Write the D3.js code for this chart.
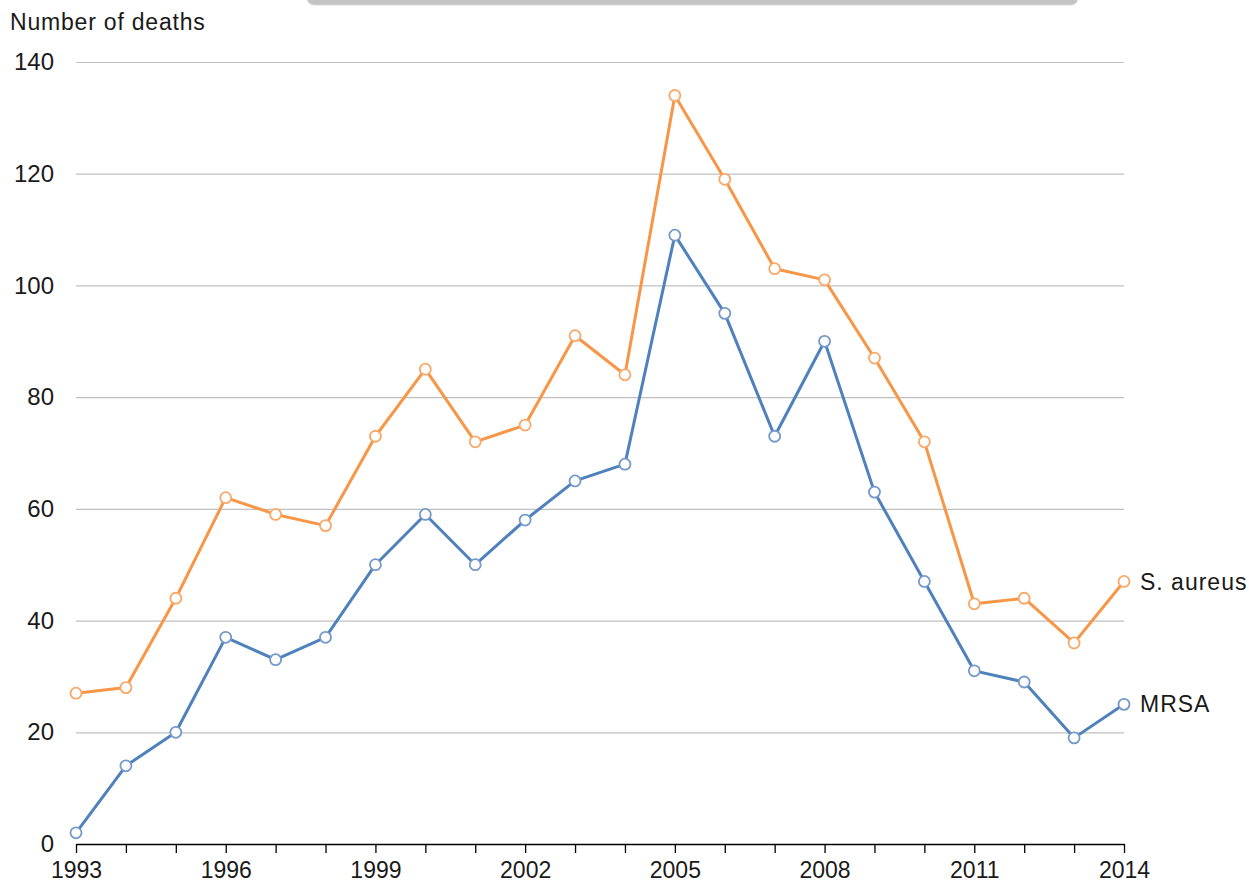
<!DOCTYPE html>
<html>
<head>
<meta charset="utf-8">
<script src="https://cdn.jsdelivr.net/npm/d3@7"></script>
<style>
  body { margin: 0; background: #fff; }
  text { font-family: "Liberation Sans", Arial, sans-serif; fill: #1a1a1a; }
</style>
</head>
<body>
<div id="chart"></div>
<script>
//Dimensions of the picture and the plot area
const width = 1249;
const height = 887;
const margin = { top: 62, right: 125, bottom: 43, left: 76 };

//Data
const years = d3.range(1993, 2015);
const sAureus = [27, 28, 44, 62, 59, 57, 73, 85, 72, 75, 91, 84, 134, 119, 103, 101, 87, 72, 43, 44, 36, 47];
const mrsa = [2, 14, 20, 37, 33, 37, 50, 59, 50, 58, 65, 68, 109, 95, 73, 90, 63, 47, 31, 29, 19, 25];
const yTicks = [0, 20, 40, 60, 80, 100, 120, 140];
const xLabelYears = [1993, 1996, 1999, 2002, 2005, 2008, 2011, 2014];

const series = [
    { name: "S. aureus", values: sAureus, color: "#f79646", marker: "#f9a868" },
    { name: "MRSA", values: mrsa, color: "#4f81bd", marker: "#7499cb" }
];

//Scales
const x = d3.scaleLinear()
    .domain([1993, 2014])
    .range([margin.left, width - margin.right]);

const y = d3.scaleLinear()
    .domain([0, 140])
    .range([height - margin.bottom, margin.top]);

const svg = d3.create("svg")
    .attr("width", width)
    .attr("height", height)
    .attr("viewBox", [0, 0, width, height]);

//Grey box cut off at the top of the picture
svg.append("rect")
    .attr("x", 307)
    .attr("y", -12)
    .attr("width", 771)
    .attr("height", 17)
    .attr("rx", 7)
    .attr("fill", "#c4c4c4")
    .attr("stroke", "#d8d8d8")
    .attr("stroke-width", 1);

//Horizontal gridlines + y labels
const yAxis = svg.append("g")
    .attr("transform", `translate(${margin.left},0)`)
    .call(d3.axisLeft(y).tickValues(yTicks).tickSize(-(width - margin.left - margin.right)).tickPadding(22));

yAxis.select(".domain").remove();
yAxis.selectAll(".tick line")
    .attr("stroke", d => d === 0 ? "none" : "#c0c0c0")
    .attr("stroke-width", 1.2);
yAxis.selectAll(".tick text")
    .attr("font-size", 24)
    .attr("fill", "#1a1a1a")
    .style("font-family", null);

//Bottom axis with a tick every year, label every 3 years
const xAxis = svg.append("g")
    .attr("transform", `translate(0,${y(0)})`)
    .call(d3.axisBottom(x)
        .tickValues(years)
        .tickSize(9)
        .tickPadding(9)
        .tickSizeOuter(0)
        .tickFormat(d => xLabelYears.includes(d) ? d : ""));

xAxis.select(".domain").attr("stroke", "#000").attr("stroke-width", 1.6);
xAxis.selectAll(".tick line").attr("stroke", "#000").attr("stroke-width", 1.3);
xAxis.selectAll(".tick text")
    .attr("font-size", 23)
    .attr("fill", "#1a1a1a")
    .style("font-family", null);

//Y axis title
svg.append("text")
    .attr("x", 10)
    .attr("y", 30)
    .attr("font-size", 23)
    .attr("letter-spacing", 0.8)
    .text("Number of deaths");

//Lines
const line = d3.line()
    .x((d, i) => x(years[i]))
    .y(d => y(d));

const g = svg.selectAll(".series")
    .data(series)
    .join("g")
    .attr("class", "series");

g.append("path")
    .attr("d", d => line(d.values))
    .attr("fill", "none")
    .attr("stroke", d => d.color)
    .attr("stroke-width", 3)
    .attr("stroke-linejoin", "round");

//Hollow markers
g.selectAll("circle")
    .data(d => d.values.map((v, i) => ({ v, i, color: d.marker })))
    .join("circle")
    .attr("cx", d => x(years[d.i]))
    .attr("cy", d => y(d.v))
    .attr("r", 5.5)
    .attr("fill", "#fff")
    .attr("stroke", d => d.color)
    .attr("stroke-width", 1.8);

//Labels at the end of each line
g.append("text")
    .attr("x", d => x(2014) + 16)
    .attr("y", d => y(d.values[d.values.length - 1]))
    .attr("dy", "0.35em")
    .attr("font-size", 23)
    .attr("letter-spacing", 1)
    .text(d => d.name);

d3.select("#chart").node().append(svg.node());
</script>
</body>
</html>
